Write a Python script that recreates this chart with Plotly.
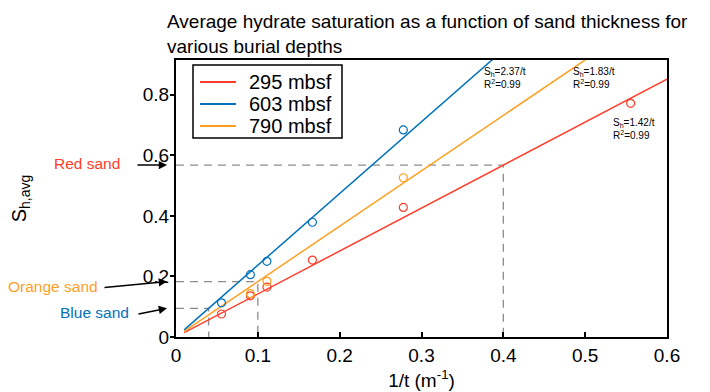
import plotly.graph_objects as go

# Inverse sand thickness (1/t, m^-1) and average hydrate saturation per burial depth
x_295 = [0.0556, 0.0909, 0.1111, 0.1667, 0.2778, 0.5556]
s_295 = [0.076, 0.136, 0.165, 0.254, 0.428, 0.772]

x_603 = [0.0556, 0.0909, 0.1111, 0.1667, 0.2778]
s_603 = [0.113, 0.206, 0.250, 0.379, 0.684]

x_790 = [0.0909, 0.1111, 0.2778]
s_790 = [0.143, 0.184, 0.526]

# Fitted coefficients  S_h = k / t
k_295, k_603, k_790 = 1.42, 2.37, 1.83
fit_x = [0.01, 0.6]
depth_names = ["295 mbsf", "603 mbsf", "790 mbsf"]

# Thickness guides for the three highlighted sands (1/t)
guide_red, guide_orange, guide_blue = 0.4, 0.1, 0.04

RED = "#FF3D2A"
BLUE = "#0072BD"
ORANGE = "#FF9F1F"
GUIDE = "#8c8c8c"
FONT = "Liberation Sans, Arial, sans-serif"

# Plot area in pixels (left, right, top, bottom)
L, R, T, B = 176, 667, 60, 337


def px(xp):
    return (xp - L) / (R - L)


def py(yp):
    return (B - yp) / (B - T)


fig = go.Figure()


def fit_line(k, color):
    return go.Scatter(x=fit_x, y=[k * v for v in fit_x], mode="lines",
                      line=dict(color=color, width=1.5), showlegend=False,
                      hoverinfo="skip")


def points(xs, ys, color):
    return go.Scatter(x=xs, y=ys, mode="markers", showlegend=False,
                      marker=dict(symbol="circle-open", size=8,
                                  color=color, line=dict(width=1.2)))


def guide(k, g):
    return go.Scatter(x=[0, g, g], y=[k * g, k * g, 0], mode="lines",
                      showlegend=False, hoverinfo="skip",
                      line=dict(color=GUIDE, width=1.3, dash="8px,6px"))


for k, g in [(k_295, guide_red), (k_790, guide_orange), (k_603, guide_blue)]:
    fig.add_trace(guide(k, g))

fig.add_trace(fit_line(k_295, RED))
fig.add_trace(fit_line(k_603, BLUE))
fig.add_trace(fit_line(k_790, ORANGE))
fig.add_trace(points(x_295, s_295, RED))
fig.add_trace(points(x_603, s_603, BLUE))
fig.add_trace(points(x_790, s_790, ORANGE))

# Compact boxed legend
fig.add_shape(type="rect", xref="paper", yref="paper",
              x0=px(193), x1=px(342), y0=py(138), y1=py(65),
              line=dict(color="black", width=1.5), fillcolor="white", layer="above")
for i, (name, color) in enumerate(zip(depth_names, [RED, BLUE, ORANGE])):
    row = 82 + 22 * i
    fig.add_shape(type="line", xref="paper", yref="paper",
                  x0=px(200), x1=px(236), y0=py(row), y1=py(row),
                  line=dict(color=color, width=2.2), layer="above")
    fig.add_annotation(x=px(247), y=py(row), xref="paper", yref="paper",
                       xanchor="left", yanchor="middle", showarrow=False,
                       text=name, font=dict(family=FONT, size=20, color="black"))

# Title, left-aligned above the axes
fig.add_annotation(x=px(165), y=1.185, xref="paper", yref="paper",
                   xanchor="left", yanchor="top", align="left", showarrow=False,
                   text="Average hydrate saturation as a function of sand thickness for<br>various burial depths",
                   font=dict(family=FONT, size=19, color="black"))

# Fit equations
eq_style = dict(showarrow=False, xref="paper", yref="paper", xanchor="left",
                yanchor="top", align="left",
                font=dict(family=FONT, size=10, color="black"))
for ex, ey, k in [(0.623, 0.985, k_603), (0.805, 0.985, k_790), (0.886, 0.80, k_295)]:
    fig.add_annotation(x=ex, y=ey,
                       text=f"S<sub>h</sub>={k:.2f}/t<br>R<sup>2</sup>=0.99",
                       **eq_style)

# Sand labels with arrows pointing at the y axis
# (label, colour, saturation, label right edge px, arrow dx, arrow dy, label shift)
sands = [("Red sand", RED, k_295 * guide_red, 122, -31, 0, 2),
         ("Orange sand", ORANGE, k_790 * guide_orange, 100, -64, 6, -5),
         ("Blue sand", BLUE, k_603 * guide_blue, 131, -30, 6, -4)]
for text, color, yv, text_right, dx, dy, shift in sands:
    fig.add_annotation(x=px(167), y=yv, xref="paper", yref="y", text="",
                       showarrow=True, arrowhead=2, arrowsize=1.1,
                       arrowwidth=1.5, arrowcolor="black",
                       axref="pixel", ayref="pixel", ax=dx, ay=dy)
    fig.add_annotation(x=px(text_right), y=yv, xref="paper", yref="y",
                       text=text, showarrow=False, xanchor="right",
                       yshift=shift,
                       font=dict(family=FONT, size=15.5, color=color))

fig.update_layout(
    width=710, height=392,
    margin=dict(l=L, r=710 - R, t=T, b=392 - B),
    paper_bgcolor="white", plot_bgcolor="white",
    font=dict(family=FONT, size=19, color="black"),
    showlegend=False,
    xaxis=dict(range=[0, 0.6], tickvals=[0, 0.1, 0.2, 0.3, 0.4, 0.5, 0.6],
               ticktext=["0", "0.1", "0.2", "0.3", "0.4", "0.5", "0.6"],
               ticks="inside", ticklen=5, tickwidth=1.5, tickcolor="black",
               showline=True, linecolor="black", linewidth=2, mirror=True,
               showgrid=False, zeroline=False, tickfont=dict(size=19),
               automargin=False,
               title=dict(text="1/t (m<sup>-1</sup>)", standoff=9,
                          font=dict(family=FONT, size=19))),
    yaxis=dict(range=[0, 0.915], tickvals=[0, 0.2, 0.4, 0.6, 0.8],
               ticktext=["0", "0.2", "0.4", "0.6", "0.8"],
               ticks="outside", ticklen=4, tickwidth=1.5, tickcolor="black",
               showline=True, linecolor="black", linewidth=2, mirror=True,
               showgrid=False, zeroline=False, tickfont=dict(size=19),
               ticklabelstandoff=-3, automargin=False,
               title=dict(text="S<sub>h,avg</sub>", standoff=111,
                          font=dict(family=FONT, size=20))),
)

fig.write_html("out.html")
